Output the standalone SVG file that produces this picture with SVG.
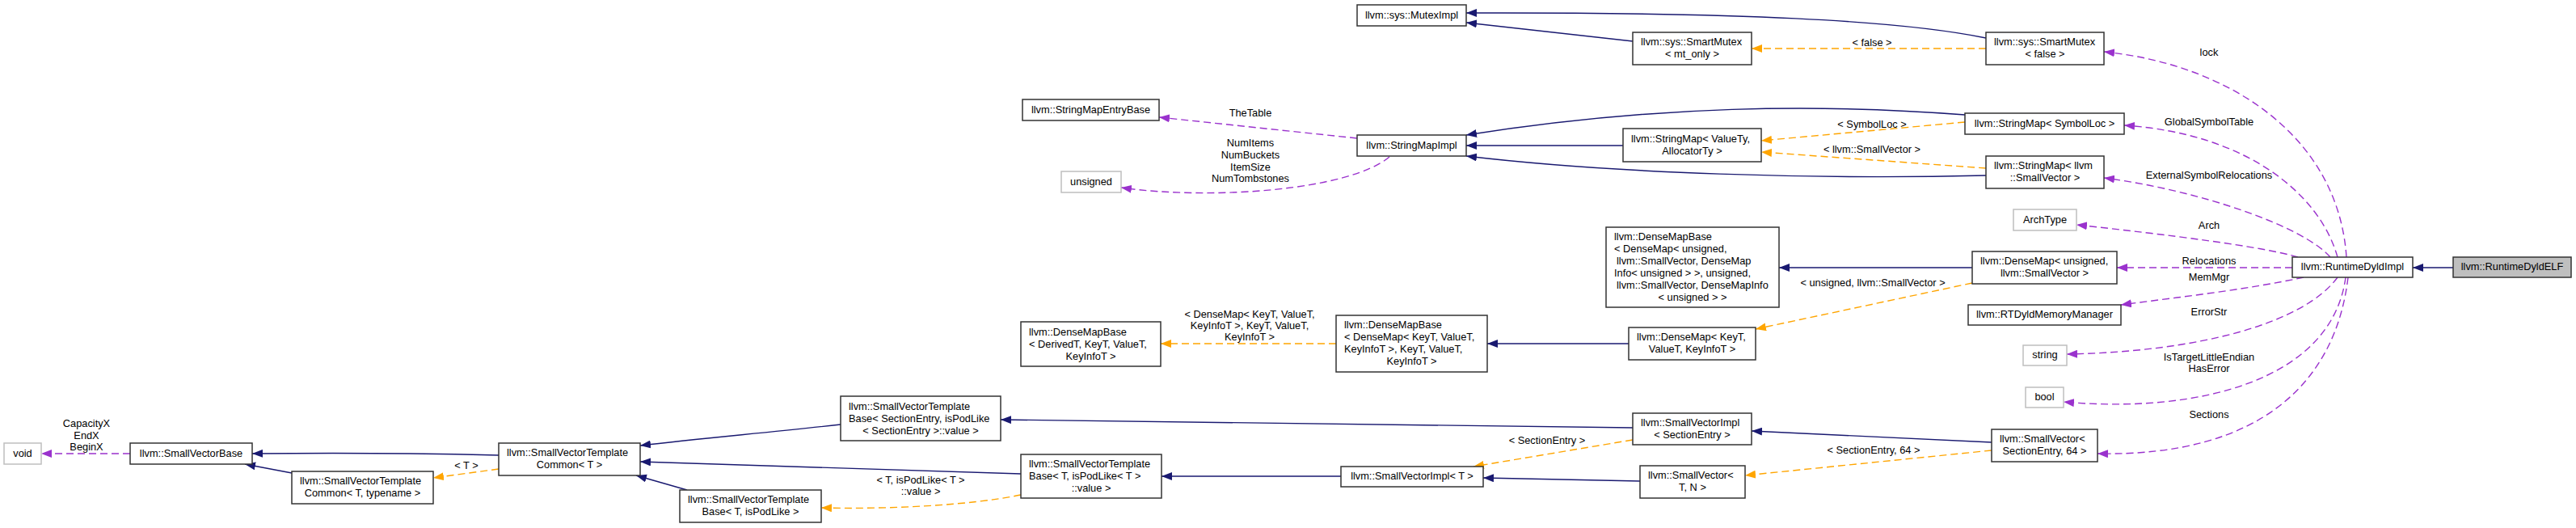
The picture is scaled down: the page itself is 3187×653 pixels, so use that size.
<svg xmlns="http://www.w3.org/2000/svg" width="3187" height="653" viewBox="0 0 3187 653">
<style>
text{font-family:"Liberation Sans",Arial,sans-serif;font-size:12.8px;fill:#000}
.c{text-anchor:middle}
.s{text-anchor:start}
rect.n{fill:#fff;stroke:#333;stroke-width:1.5}
rect.u{fill:#fff;stroke:#bfbfbf;stroke-width:1.5}
rect.r{fill:#bfbfbf;stroke:#333;stroke-width:1.5}
.e path{fill:none;stroke-width:1.4}
.b{stroke:#191970;marker-end:url(#mb)}
.o{stroke:#ffa500;stroke-dasharray:9,5;marker-end:url(#mo)}
.p{stroke:#9a32cd;stroke-dasharray:9,5;marker-end:url(#mp)}
</style>
<defs>
<marker id="mb" viewBox="0 0 13 10" refX="13" refY="5" markerWidth="13" markerHeight="10" markerUnits="userSpaceOnUse" orient="auto"><path d="M0,0 L13,5 L0,10 z" fill="#191970"/></marker>
<marker id="mo" viewBox="0 0 13 10" refX="13" refY="5" markerWidth="13" markerHeight="10" markerUnits="userSpaceOnUse" orient="auto"><path d="M0,0 L13,5 L0,10 z" fill="#ffa500"/></marker>
<marker id="mp" viewBox="0 0 13 10" refX="13" refY="5" markerWidth="13" markerHeight="10" markerUnits="userSpaceOnUse" orient="auto"><path d="M0,0 L13,5 L0,10 z" fill="#9a32cd"/></marker>
</defs>
<rect width="3187" height="653" fill="#fff"/>
<g id="edges" class="e">
<path class="b" d="M3035,331 L2985,331"/>
<path class="p" d="M2903,318 C2893,170 2760,80 2603,64"/>
<path class="p" d="M2892,318 C2870,240 2780,165 2628,155"/>
<path class="p" d="M2883,318 C2850,280 2720,235 2603,220"/>
<path class="p" d="M2843,318 C2800,305 2680,290 2569,278"/>
<path class="p" d="M2836,331 L2619,331"/>
<path class="p" d="M2850,343 C2780,358 2700,367 2624,377"/>
<path class="p" d="M2892,343 C2850,400 2720,435 2557,438"/>
<path class="p" d="M2902,343 C2885,470 2720,512 2553,497"/>
<path class="p" d="M2905,343 C2890,470 2800,565 2595,561"/>
<path class="b" d="M2457,47 C2350,25 2150,15 1814,16"/>
<path class="b" d="M2020,51 L1814,28"/>
<path class="o" d="M2457,60 L2167,60"/>
<path class="b" d="M2431,142 C2250,128 2050,130 1814,167"/>
<path class="b" d="M2008,180 L1814,180"/>
<path class="b" d="M2457,217 C2250,222 2000,215 1814,193"/>
<path class="o" d="M2431,151 L2179,174"/>
<path class="o" d="M2457,208 L2179,188"/>
<path class="p" d="M1679,171 L1434,145"/>
<path class="p" d="M1719,194 C1670,235 1500,248 1387,232"/>
<path class="b" d="M2440,331 L2201,331"/>
<path class="o" d="M2440,350 L2172,407"/>
<path class="b" d="M2015,425 L1840,425"/>
<path class="o" d="M1653,425 L1436,425"/>
<path class="b" d="M2464,547 L2167,533"/>
<path class="o" d="M2464,557 L2159,588"/>
<path class="b" d="M2020,529 L1238,519"/>
<path class="o" d="M2020,544 L1823,577"/>
<path class="b" d="M2029,595 L1835,591"/>
<path class="b" d="M1659,589 L1437,589"/>
<path class="b" d="M1040,525 C950,535 870,542 792,551"/>
<path class="b" d="M1263,586 L792,571"/>
<path class="b" d="M850,606 L787,588"/>
<path class="o" d="M1263,612 C1200,625 1100,630 1016,628"/>
<path class="b" d="M617,563 C500,560 400,560 312,561"/>
<path class="b" d="M361,585 L303,574"/>
<path class="o" d="M617,580 L536,591"/>
<path class="p" d="M161,561 L51,561"/>
</g>
<g id="edge-labels">
<text class="c" x="107" y="527.5">CapacityX</text>
<text class="c" x="107" y="542.5">EndX</text>
<text class="c" x="107" y="556.5">BeginX</text>
<text class="c" x="577" y="579.5">&lt; T &gt;</text>
<text class="c" x="1139" y="597.5">&lt; T, isPodLike&lt; T &gt;</text>
<text class="c" x="1139" y="611.5">::value &gt;</text>
<text class="c" x="1546" y="392.5">&lt; DenseMap&lt; KeyT, ValueT,</text>
<text class="c" x="1546" y="406.5">KeyInfoT &gt;, KeyT, ValueT,</text>
<text class="c" x="1546" y="420.5">KeyInfoT &gt;</text>
<text class="c" x="1914" y="548.5">&lt; SectionEntry &gt;</text>
<text class="c" x="2318" y="560.5">&lt; SectionEntry, 64 &gt;</text>
<text class="c" x="2317" y="353.5">&lt; unsigned, llvm::SmallVector &gt;</text>
<text class="c" x="2316" y="56.5">&lt; false &gt;</text>
<text class="c" x="2316" y="157.5">&lt; SymbolLoc &gt;</text>
<text class="c" x="2316" y="188.5">&lt; llvm::SmallVector &gt;</text>
<text class="c" x="1547" y="143.5">TheTable</text>
<text class="c" x="1547" y="180.5">NumItems</text>
<text class="c" x="1547" y="195.5">NumBuckets</text>
<text class="c" x="1547" y="210.5">ItemSize</text>
<text class="c" x="1547" y="224.5">NumTombstones</text>
<text class="c" x="2733" y="68.5">lock</text>
<text class="c" x="2733" y="154.5">GlobalSymbolTable</text>
<text class="c" x="2733" y="220.5">ExternalSymbolRelocations</text>
<text class="c" x="2733" y="282.5">Arch</text>
<text class="c" x="2733" y="326.5">Relocations</text>
<text class="c" x="2733" y="346.5">MemMgr</text>
<text class="c" x="2733" y="389.5">ErrorStr</text>
<text class="c" x="2733" y="445.5">IsTargetLittleEndian</text>
<text class="c" x="2733" y="459.5">HasError</text>
<text class="c" x="2733" y="516.5">Sections</text>
</g>
<g id="n_elf"><rect class="r" x="3035" y="318" width="146" height="25"/><text class="c" x="3108" y="334">llvm::RuntimeDyldELF</text></g>
<g id="n_impl"><rect class="n" x="2836" y="318" width="149" height="25"/><text class="c" x="2910.5" y="334">llvm::RuntimeDyldImpl</text></g>
<g id="n_smartmutex_false"><rect class="n" x="2457" y="40" width="146" height="40"/><text class="s" x="2467" y="56">llvm::sys::SmartMutex</text><text class="c" x="2530" y="71">&lt; false &gt;</text></g>
<g id="n_muteximpl"><rect class="n" x="1679" y="6" width="135" height="26"/><text class="c" x="1746.5" y="22.5">llvm::sys::MutexImpl</text></g>
<g id="n_smartmutex_mt"><rect class="n" x="2020" y="40" width="147" height="40"/><text class="s" x="2030" y="56">llvm::sys::SmartMutex</text><text class="c" x="2093.5" y="71">&lt; mt_only &gt;</text></g>
<g id="n_stringmap_symbolloc"><rect class="n" x="2431" y="140" width="197" height="26"/><text class="c" x="2529.5" y="156.5">llvm::StringMap&lt; SymbolLoc &gt;</text></g>
<g id="n_stringmap_valuety"><rect class="n" x="2008" y="159" width="171" height="41"/><text class="s" x="2018" y="175.5">llvm::StringMap&lt; ValueTy,</text><text class="c" x="2093.5" y="190.5">AllocatorTy &gt;</text></g>
<g id="n_stringmap_smallvector"><rect class="n" x="2457" y="193" width="146" height="40"/><text class="s" x="2467" y="209">llvm::StringMap&lt; llvm</text><text class="c" x="2530" y="224">::SmallVector &gt;</text></g>
<g id="n_stringmapimpl"><rect class="n" x="1679" y="167" width="135" height="26"/><text class="c" x="1746.5" y="183.5">llvm::StringMapImpl</text></g>
<g id="n_stringmapentrybase"><rect class="n" x="1265" y="123" width="169" height="26"/><text class="c" x="1349.5" y="139.5">llvm::StringMapEntryBase</text></g>
<g id="n_unsigned"><rect class="u" x="1313" y="212" width="74" height="26"/><text class="c" x="1350" y="228.5">unsigned</text></g>
<g id="n_archtype"><rect class="u" x="2491" y="259" width="78" height="26"/><text class="c" x="2530" y="275.5">ArchType</text></g>
<g id="n_densemap_unsigned"><rect class="n" x="2440" y="311" width="179" height="40"/><text class="s" x="2450" y="327">llvm::DenseMap&lt; unsigned,</text><text class="c" x="2529.5" y="342">llvm::SmallVector &gt;</text></g>
<g id="n_densemapbase_unsigned"><rect class="n" x="1987" y="281" width="214" height="99"/>
<text class="s" x="1997" y="296.5">llvm::DenseMapBase</text>
<text class="s" x="1997" y="311.5">&lt; DenseMap&lt; unsigned,</text>
<text class="s" x="2000" y="326.5">llvm::SmallVector, DenseMap</text>
<text class="s" x="1997" y="341.5">Info&lt; unsigned &gt; &gt;, unsigned,</text>
<text class="s" x="2000" y="356.5">llvm::SmallVector, DenseMapInfo</text>
<text class="c" x="2094" y="371.5">&lt; unsigned &gt; &gt;</text></g>
<g id="n_rtdyldmm"><rect class="n" x="2435" y="377" width="189" height="25"/><text class="c" x="2529.5" y="393">llvm::RTDyldMemoryManager</text></g>
<g id="n_string"><rect class="u" x="2503" y="427" width="54" height="25"/><text class="c" x="2530" y="443">string</text></g>
<g id="n_bool"><rect class="u" x="2506" y="479" width="47" height="25"/><text class="c" x="2529.5" y="495">bool</text></g>
<g id="n_smallvector_se64"><rect class="n" x="2464" y="531" width="131" height="40"/><text class="s" x="2474" y="547">llvm::SmallVector&lt;</text><text class="c" x="2529.5" y="562">SectionEntry, 64 &gt;</text></g>
<g id="n_densemap_keyt"><rect class="n" x="2015" y="405" width="157" height="40"/><text class="s" x="2025" y="421">llvm::DenseMap&lt; KeyT,</text><text class="c" x="2093.5" y="436">ValueT, KeyInfoT &gt;</text></g>
<g id="n_densemapbase_densemap"><rect class="n" x="1653" y="390" width="187" height="70"/>
<text class="s" x="1663" y="406">llvm::DenseMapBase</text>
<text class="s" x="1663" y="421">&lt; DenseMap&lt; KeyT, ValueT,</text>
<text class="s" x="1663" y="436">KeyInfoT &gt;, KeyT, ValueT,</text>
<text class="c" x="1746.5" y="451">KeyInfoT &gt;</text></g>
<g id="n_densemapbase_derived"><rect class="n" x="1263" y="398" width="173" height="55"/>
<text class="s" x="1273" y="414.5">llvm::DenseMapBase</text>
<text class="s" x="1273" y="429.5">&lt; DerivedT, KeyT, ValueT,</text>
<text class="c" x="1349.5" y="444.5">KeyInfoT &gt;</text></g>
<g id="n_smallvectorimpl_se"><rect class="n" x="2020" y="511" width="147" height="39"/><text class="s" x="2030" y="526.5">llvm::SmallVectorImpl</text><text class="c" x="2093.5" y="541.5">&lt; SectionEntry &gt;</text></g>
<g id="n_smallvectorimpl_t"><rect class="n" x="1659" y="577" width="176" height="25"/><text class="c" x="1747" y="593">llvm::SmallVectorImpl&lt; T &gt;</text></g>
<g id="n_smallvector_tn"><rect class="n" x="2029" y="576" width="130" height="40"/><text class="s" x="2039" y="592">llvm::SmallVector&lt;</text><text class="c" x="2094" y="607">T, N &gt;</text></g>
<g id="n_svtb_se"><rect class="n" x="1040" y="490" width="198" height="55"/>
<text class="s" x="1050" y="506.5">llvm::SmallVectorTemplate</text>
<text class="s" x="1050" y="521.5">Base&lt; SectionEntry, isPodLike</text>
<text class="c" x="1139" y="536.5">&lt; SectionEntry &gt;::value &gt;</text></g>
<g id="n_svtb_tvalue"><rect class="n" x="1263" y="562" width="174" height="54"/>
<text class="s" x="1273" y="577.5">llvm::SmallVectorTemplate</text>
<text class="s" x="1273" y="592.5">Base&lt; T, isPodLike&lt; T &gt;</text>
<text class="c" x="1350" y="607.5">::value &gt;</text></g>
<g id="n_svtb_tpod"><rect class="n" x="841" y="606" width="175" height="40"/><text class="s" x="851" y="622">llvm::SmallVectorTemplate</text><text class="c" x="928.5" y="637">Base&lt; T, isPodLike &gt;</text></g>
<g id="n_svtc_t"><rect class="n" x="617" y="548" width="175" height="40"/><text class="s" x="627" y="564">llvm::SmallVectorTemplate</text><text class="c" x="704.5" y="579">Common&lt; T &gt;</text></g>
<g id="n_svtc_ttypename"><rect class="n" x="361" y="583" width="175" height="40"/><text class="s" x="371" y="599">llvm::SmallVectorTemplate</text><text class="c" x="448.5" y="614">Common&lt; T, typename &gt;</text></g>
<g id="n_smallvectorbase"><rect class="n" x="161" y="548" width="151" height="26"/><text class="c" x="236.5" y="564.5">llvm::SmallVectorBase</text></g>
<g id="n_void"><rect class="u" x="5" y="548" width="46" height="26"/><text class="c" x="28" y="564.5">void</text></g>
</svg>
